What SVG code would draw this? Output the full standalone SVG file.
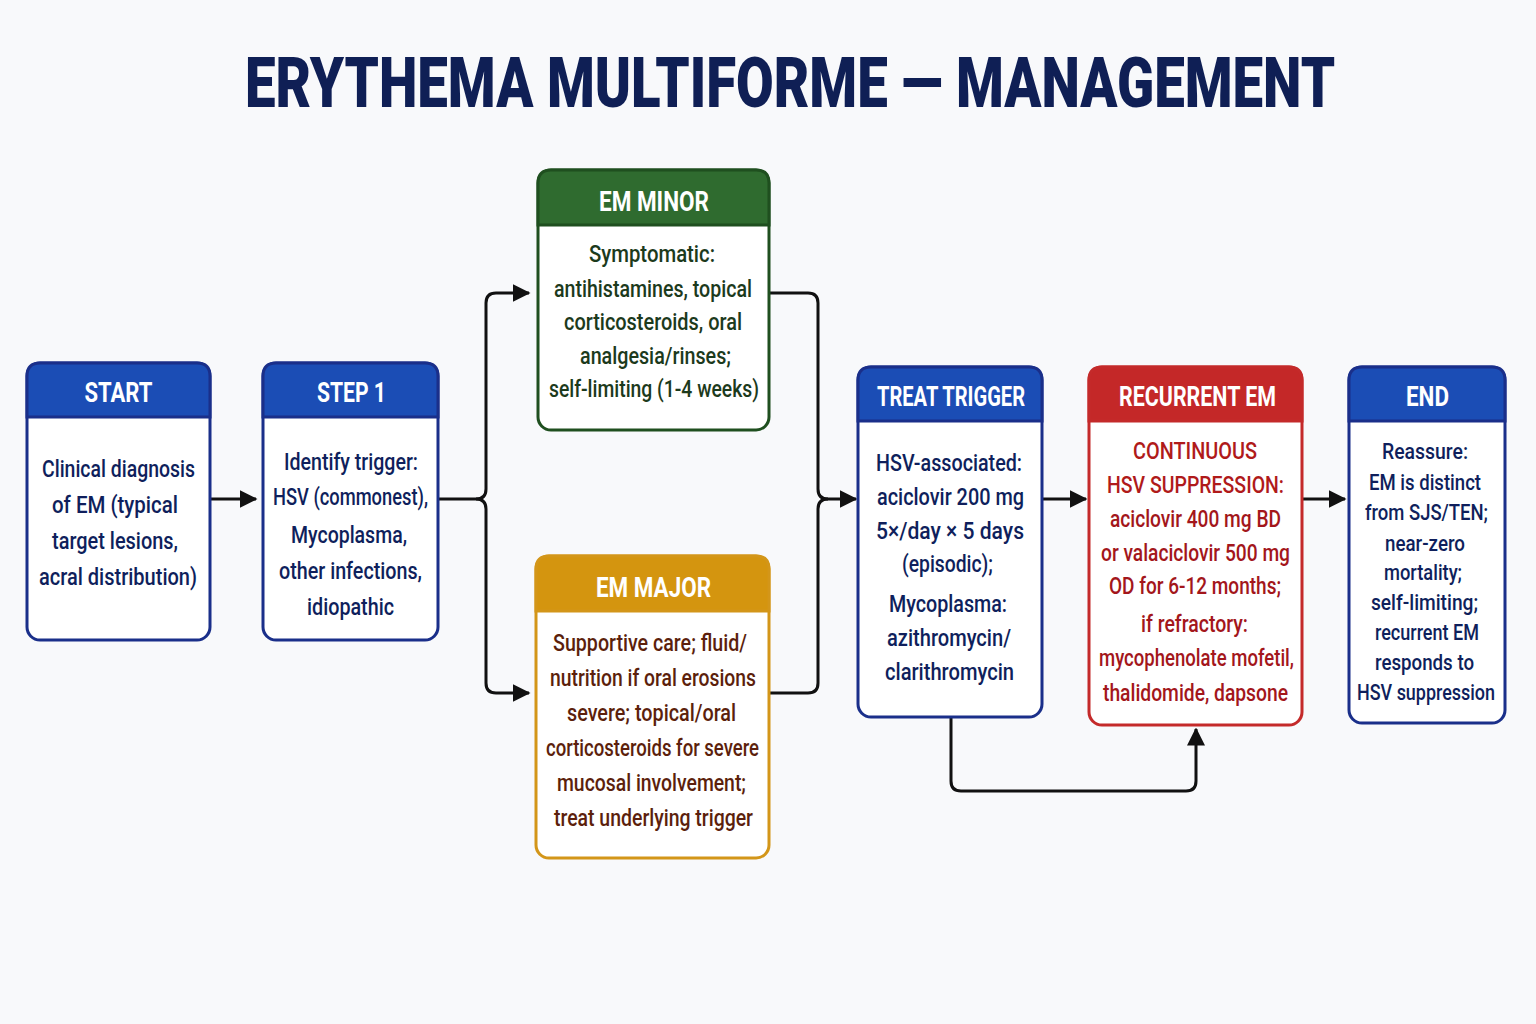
<svg xmlns="http://www.w3.org/2000/svg" width="1536" height="1024" viewBox="0 0 1536 1024">
<defs>
<marker id="arr" viewBox="0 0 12 12" refX="11" refY="6" markerWidth="18" markerHeight="18" markerUnits="userSpaceOnUse" orient="auto"><path d="M0,0 L12,6 L0,12 z" fill="#111"/></marker>
<style>
text{font-family:"Roboto","Liberation Sans","DejaVu Sans",sans-serif;text-anchor:middle;}
.title{font-size:70px;font-weight:900;fill:#0f1f55;}
.hd{font-size:27px;font-weight:bold;fill:#fff;}
.bd{font-size:24px;font-weight:500;}
.navy{fill:#0f1f5c;font-weight:500;}
.grn{fill:#1c3a1c;}
.brn{fill:#5c1f0c;}
.red{fill:#a3161b;}
.conn{fill:none;stroke:#111;stroke-width:3;stroke-linejoin:round;}
</style>
</defs>
<rect width="1536" height="1024" fill="#f8f9fb"/>
<g transform="translate(790,107) scale(0.78,1)">
<text class="title" x="0" y="0">ERYTHEMA MULTIFORME — MANAGEMENT</text>
</g>

<g id="connectors">
<path class="conn" d="M210,499 H256" marker-end="url(#arr)"/>
<path class="conn" d="M438,499 H476 Q486,499 486,489 V303 Q486,293 496,293 H529" marker-end="url(#arr)"/>
<path class="conn" d="M476,499 Q486,499 486,509 V683 Q486,693 496,693 H529" marker-end="url(#arr)"/>
<path class="conn" d="M769,293 H808 Q818,293 818,303 V489 Q818,499 828,499 H856" marker-end="url(#arr)"/>
<path class="conn" d="M769,693 H808 Q818,693 818,683 V509 Q818,499 828,499"/>
<path class="conn" d="M1042,499 H1086" marker-end="url(#arr)"/>
<path class="conn" d="M1302,499 H1345" marker-end="url(#arr)"/>
<path class="conn" d="M951,717 V781 Q951,791 961,791 H1186 Q1196,791 1196,781 V729" marker-end="url(#arr)"/>
</g>

<g id="start">
<rect x="27" y="363" width="183" height="277" rx="13" fill="#fff" stroke="#1a2f8a" stroke-width="3"/>
<path d="M27,417 V376 Q27,363 40,363 H197 Q210,363 210,376 V417 Z" fill="#1b4db5" stroke="#1a2f8a" stroke-width="3"/>
<text class="hd" x="118.5" y="402" textLength="68" lengthAdjust="spacingAndGlyphs">START</text>
<text class="bd navy" x="118.5" y="477" textLength="153" lengthAdjust="spacingAndGlyphs">Clinical diagnosis</text>
<text class="bd navy" x="115" y="513" textLength="126" lengthAdjust="spacingAndGlyphs">of EM (typical</text>
<text class="bd navy" x="115" y="549" textLength="126" lengthAdjust="spacingAndGlyphs">target lesions,</text>
<text class="bd navy" x="118" y="585" textLength="158" lengthAdjust="spacingAndGlyphs">acral distribution)</text>
</g>

<g id="step1">
<rect x="263" y="363" width="175" height="277" rx="13" fill="#fff" stroke="#1a2f8a" stroke-width="3"/>
<path d="M263,417 V376 Q263,363 276,363 H425 Q438,363 438,376 V417 Z" fill="#1b4db5" stroke="#1a2f8a" stroke-width="3"/>
<text class="hd" x="351.5" y="402" textLength="69" lengthAdjust="spacingAndGlyphs">STEP 1</text>
<text class="bd navy" x="351" y="470" textLength="134" lengthAdjust="spacingAndGlyphs">Identify trigger:</text>
<text class="bd navy" x="350.5" y="505" textLength="155" lengthAdjust="spacingAndGlyphs">HSV (commonest),</text>
<text class="bd navy" x="349" y="543" textLength="116" lengthAdjust="spacingAndGlyphs">Mycoplasma,</text>
<text class="bd navy" x="350.5" y="579" textLength="143" lengthAdjust="spacingAndGlyphs">other infections,</text>
<text class="bd navy" x="350.5" y="615" textLength="87" lengthAdjust="spacingAndGlyphs">idiopathic</text>
</g>

<g id="em-minor">
<rect x="538" y="170" width="231" height="260" rx="13" fill="#fff" stroke="#1f4f1f" stroke-width="3"/>
<path d="M538,225 V183 Q538,170 551,170 H756 Q769,170 769,183 V225 Z" fill="#2f6b2f" stroke="#1f4f1f" stroke-width="3"/>
<text class="hd" x="654" y="211" textLength="110" lengthAdjust="spacingAndGlyphs">EM MINOR</text>
<text class="bd grn" x="652" y="262" textLength="126" lengthAdjust="spacingAndGlyphs">Symptomatic:</text>
<text class="bd grn" x="653" y="297" textLength="198" lengthAdjust="spacingAndGlyphs">antihistamines, topical</text>
<text class="bd grn" x="653" y="330" textLength="178" lengthAdjust="spacingAndGlyphs">corticosteroids, oral</text>
<text class="bd grn" x="655.5" y="364" textLength="151" lengthAdjust="spacingAndGlyphs">analgesia/rinses;</text>
<text class="bd grn" x="654" y="397" textLength="210" lengthAdjust="spacingAndGlyphs">self-limiting (1-4 weeks)</text>
</g>

<g id="em-major">
<rect x="536" y="556" width="233" height="302" rx="13" fill="#fff" stroke="#d39619" stroke-width="3"/>
<path d="M536,611 V569 Q536,556 549,556 H756 Q769,556 769,569 V611 Z" fill="#d4950f" stroke="#d39619" stroke-width="3"/>
<text class="hd" x="653.5" y="597" textLength="115" lengthAdjust="spacingAndGlyphs">EM MAJOR</text>
<text class="bd brn" x="650" y="651" textLength="194" lengthAdjust="spacingAndGlyphs">Supportive care; fluid/</text>
<text class="bd brn" x="653" y="686" textLength="206" lengthAdjust="spacingAndGlyphs">nutrition if oral erosions</text>
<text class="bd brn" x="651.5" y="721" textLength="169" lengthAdjust="spacingAndGlyphs">severe; topical/oral</text>
<text class="bd brn" x="652.5" y="756" textLength="213" lengthAdjust="spacingAndGlyphs">corticosteroids for severe</text>
<text class="bd brn" x="651.5" y="791" textLength="189" lengthAdjust="spacingAndGlyphs">mucosal involvement;</text>
<text class="bd brn" x="653.5" y="826" textLength="199" lengthAdjust="spacingAndGlyphs">treat underlying trigger</text>
</g>

<g id="treat-trigger">
<rect x="858" y="367" width="184" height="350" rx="13" fill="#fff" stroke="#1a2f8a" stroke-width="3"/>
<path d="M858,421 V380 Q858,367 871,367 H1029 Q1042,367 1042,380 V421 Z" fill="#1b4db5" stroke="#1a2f8a" stroke-width="3"/>
<text class="hd" x="951" y="406" textLength="148" lengthAdjust="spacingAndGlyphs">TREAT TRIGGER</text>
<text class="bd navy" x="949" y="471" textLength="146" lengthAdjust="spacingAndGlyphs">HSV-associated:</text>
<text class="bd navy" x="950.5" y="505" textLength="147" lengthAdjust="spacingAndGlyphs">aciclovir 200 mg</text>
<text class="bd navy" x="950" y="539" textLength="148" lengthAdjust="spacingAndGlyphs">5×/day × 5 days</text>
<text class="bd navy" x="947.5" y="572" textLength="91" lengthAdjust="spacingAndGlyphs">(episodic);</text>
<text class="bd navy" x="948" y="612" textLength="118" lengthAdjust="spacingAndGlyphs">Mycoplasma:</text>
<text class="bd navy" x="949" y="646" textLength="124" lengthAdjust="spacingAndGlyphs">azithromycin/</text>
<text class="bd navy" x="949.5" y="680" textLength="129" lengthAdjust="spacingAndGlyphs">clarithromycin</text>
</g>

<g id="recurrent-em">
<rect x="1089" y="367" width="213" height="358" rx="13" fill="#fff" stroke="#c42a2a" stroke-width="3"/>
<path d="M1089,421 V380 Q1089,367 1102,367 H1289 Q1302,367 1302,380 V421 Z" fill="#c42828" stroke="#c42a2a" stroke-width="3"/>
<text class="hd" x="1197.5" y="406" textLength="157" lengthAdjust="spacingAndGlyphs">RECURRENT EM</text>
<text class="bd" x="1195" y="459" fill="#b01a1a" textLength="124" lengthAdjust="spacingAndGlyphs">CONTINUOUS</text>
<text class="bd" x="1195.5" y="493" fill="#b01a1a" textLength="177" lengthAdjust="spacingAndGlyphs">HSV SUPPRESSION:</text>
<text class="bd red" x="1195.5" y="527" textLength="171" lengthAdjust="spacingAndGlyphs">aciclovir 400 mg BD</text>
<text class="bd red" x="1195.5" y="561" textLength="189" lengthAdjust="spacingAndGlyphs">or valaciclovir 500 mg</text>
<text class="bd red" x="1195" y="594" textLength="172" lengthAdjust="spacingAndGlyphs">OD for 6-12 months;</text>
<text class="bd red" x="1194.5" y="632" textLength="107" lengthAdjust="spacingAndGlyphs">if refractory:</text>
<text class="bd red" x="1196.5" y="666" textLength="195" lengthAdjust="spacingAndGlyphs">mycophenolate mofetil,</text>
<text class="bd red" x="1195.5" y="701" textLength="185" lengthAdjust="spacingAndGlyphs">thalidomide, dapsone</text>
</g>

<g id="end">
<rect x="1349" y="367" width="156" height="356" rx="13" fill="#fff" stroke="#1a2f8a" stroke-width="3"/>
<path d="M1349,421 V380 Q1349,367 1362,367 H1492 Q1505,367 1505,380 V421 Z" fill="#1b4db5" stroke="#1a2f8a" stroke-width="3"/>
<text class="hd" x="1427.5" y="406" textLength="43" lengthAdjust="spacingAndGlyphs">END</text>
<text class="navy" font-size="22" x="1425" y="459" textLength="86" lengthAdjust="spacingAndGlyphs">Reassure:</text>
<text class="navy" font-size="22" x="1425" y="490" textLength="112" lengthAdjust="spacingAndGlyphs">EM is distinct</text>
<text class="navy" font-size="22" x="1426.5" y="520" textLength="123" lengthAdjust="spacingAndGlyphs">from SJS/TEN;</text>
<text class="navy" font-size="22" x="1425" y="551" textLength="80" lengthAdjust="spacingAndGlyphs">near-zero</text>
<text class="navy" font-size="22" x="1423" y="580" textLength="78" lengthAdjust="spacingAndGlyphs">mortality;</text>
<text class="navy" font-size="22" x="1424.5" y="610" textLength="107" lengthAdjust="spacingAndGlyphs">self-limiting;</text>
<text class="navy" font-size="22" x="1427" y="640" textLength="104" lengthAdjust="spacingAndGlyphs">recurrent EM</text>
<text class="navy" font-size="22" x="1424.5" y="670" textLength="99" lengthAdjust="spacingAndGlyphs">responds to</text>
<text class="navy" font-size="22" x="1426" y="700" textLength="138" lengthAdjust="spacingAndGlyphs">HSV suppression</text>
</g>
</svg>
